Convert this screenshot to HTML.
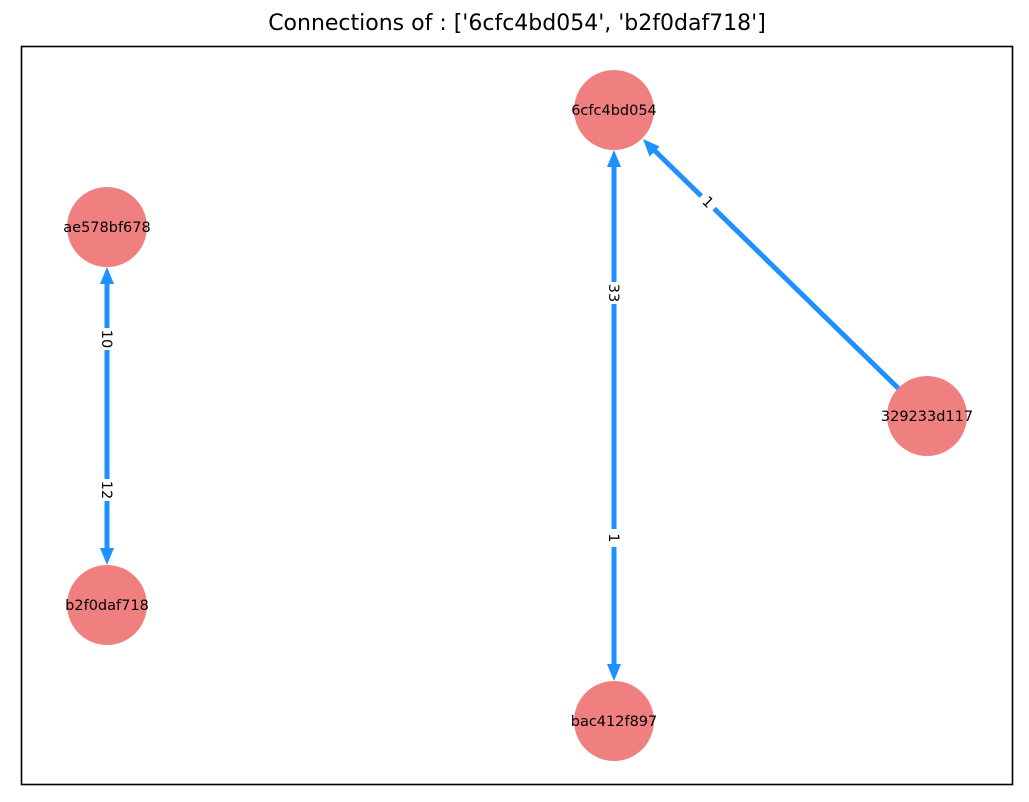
<!DOCTYPE html>
<html><head><meta charset="utf-8"><style>
html,body{margin:0;padding:0;background:#fff;}
svg{display:block;}
text{font-family:"DejaVu Sans","Liberation Sans",sans-serif;}
</style></head><body>
<svg width="1029" height="802" viewBox="0 0 1029 802" xmlns="http://www.w3.org/2000/svg">
<rect x="0" y="0" width="1029" height="802" fill="#fff"/>
<text x="517" y="30" font-size="22" text-anchor="middle" fill="#000">Connections of : ['6cfc4bd054', 'b2f0daf718']</text>
<rect x="21.5" y="46.5" width="991" height="738" fill="none" stroke="#000" stroke-width="1.6"/>
<g stroke="#1e90ff" stroke-width="5" fill="none">
<line x1="614" y1="160" x2="614" y2="671"/>
<line x1="107" y1="277" x2="107" y2="555"/>
<line x1="899" y1="389" x2="652" y2="148"/>
</g>
<g fill="#1e90ff">
<polygon points="614,150 607,167 621,167"/>
<polygon points="614,681 607,664 621,664"/>
<polygon points="107,267 100,284 114,284"/>
<polygon points="107,565 100,548 114,548"/>
<polygon points="643,139 649.5,156.5 659.5,146.5"/>
</g>
<g fill="#f08080">
<circle cx="614" cy="110" r="40"/>
<circle cx="107" cy="227" r="40"/>
<circle cx="927" cy="416" r="40"/>
<circle cx="107" cy="605" r="40"/>
<circle cx="614" cy="721" r="40"/>
</g>
<g font-size="14.5" text-anchor="middle" fill="#000">
<text x="614" y="115">6cfc4bd054</text>
<text x="107" y="232">ae578bf678</text>
<text x="927" y="421">329233d117</text>
<text x="107" y="610">b2f0daf718</text>
<text x="614" y="726">bac412f897</text>
</g>
<g font-size="14.5" text-anchor="middle" fill="#000">
<g transform="translate(614,293) rotate(90)"><rect x="-11" y="-10" width="22" height="20" fill="#fff"/><text x="0" y="5">33</text></g>
<g transform="translate(614,538) rotate(90)"><rect x="-9" y="-10" width="18" height="20" fill="#fff"/><text x="0" y="5">1</text></g>
<g transform="translate(107,339) rotate(90)"><rect x="-11" y="-10" width="22" height="20" fill="#fff"/><text x="0" y="5">10</text></g>
<g transform="translate(107,490) rotate(90)"><rect x="-11" y="-10" width="22" height="20" fill="#fff"/><text x="0" y="5">12</text></g>
<g transform="translate(708,202) rotate(44.3)"><rect x="-9" y="-10" width="18" height="20" fill="#fff"/><text x="0" y="5">1</text></g>
</g>
</svg>
</body></html>
